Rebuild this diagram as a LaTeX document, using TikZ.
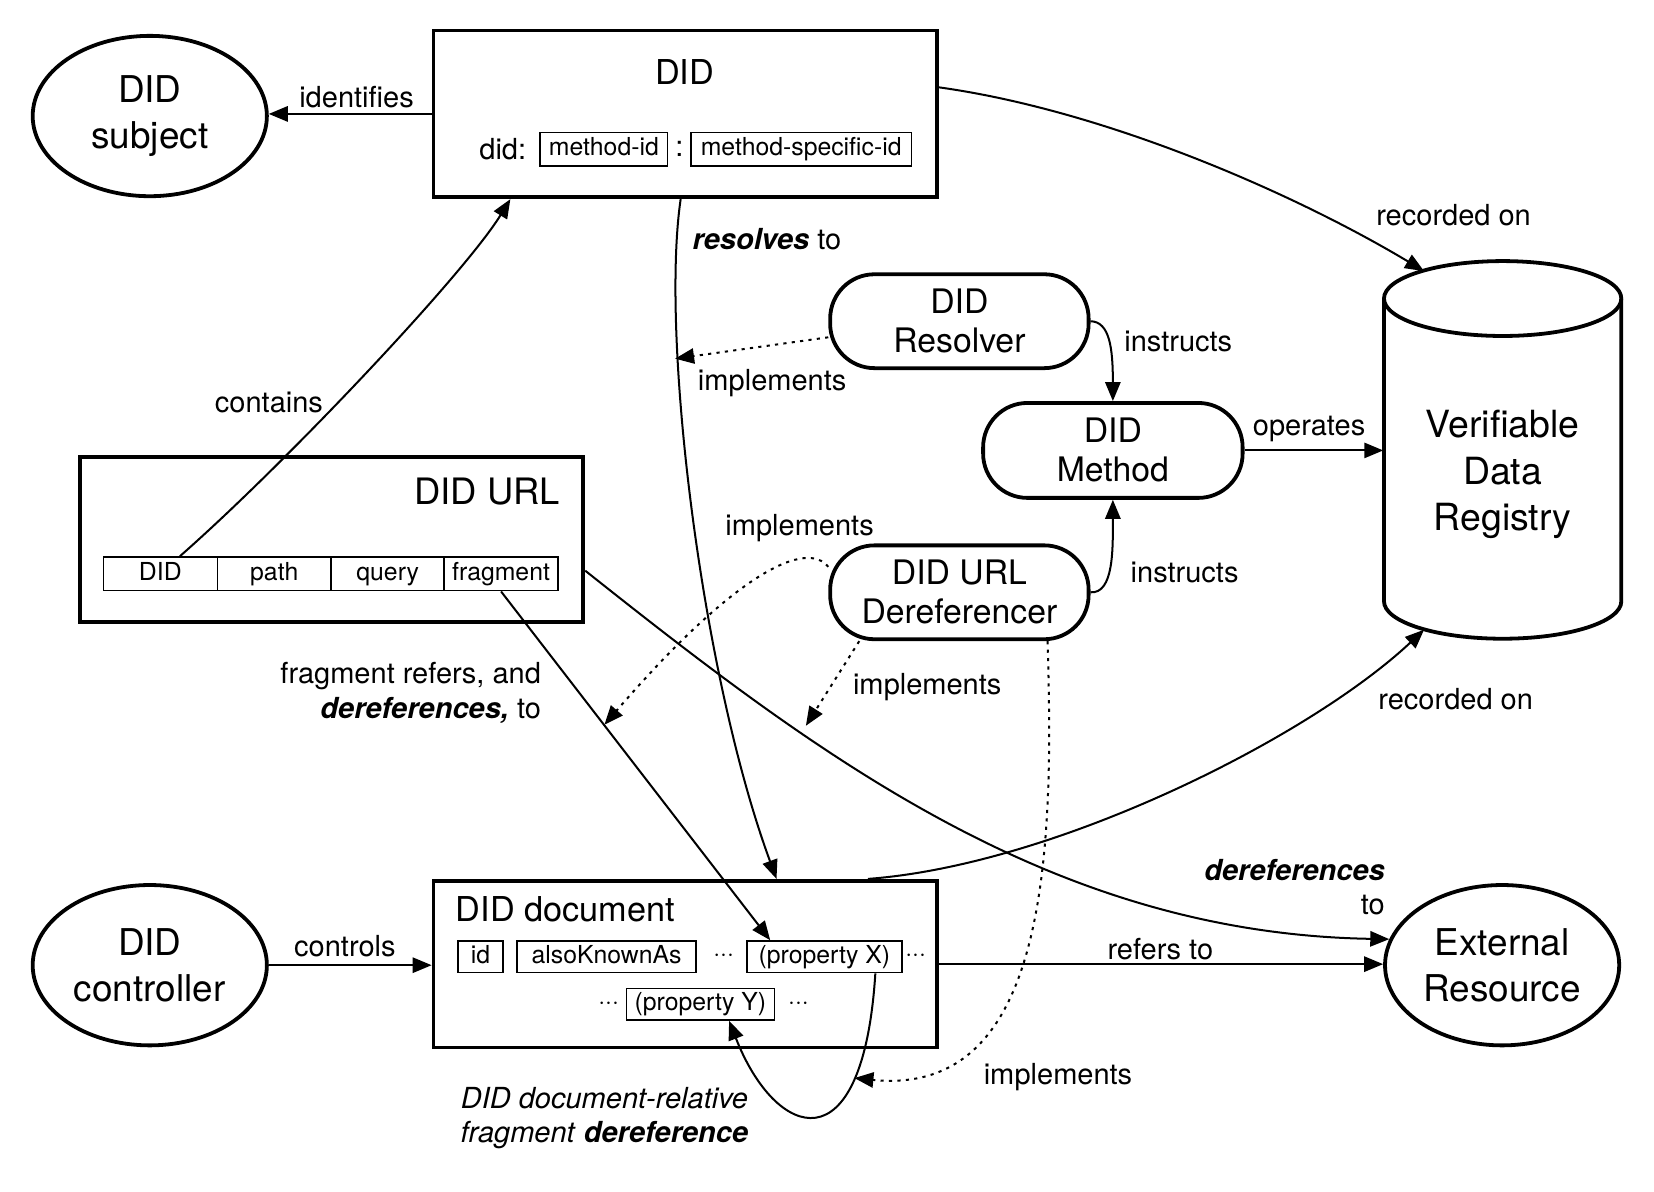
\documentclass[tikz,border=0pt]{standalone}
\usepackage{fontspec}
\setmainfont{TeX Gyre Heros}
\usetikzlibrary{arrows.meta,calc,shapes.geometric}

\begin{document}
\begin{tikzpicture}[x=1pt,y=-1pt,
		bigbox/.style={draw,line width=3.6pt,minimum width=477pt,minimum height=158pt,inner sep=0pt},
		entity/.style={draw,ellipse,line width=3.6pt,minimum width=222pt,minimum height=152pt,inner sep=0pt,align=center,font=\fontsize{35}{43}\selectfont},
		actor/.style={draw,rounded corners=42pt,line width=3.6pt,minimum width=245pt,minimum height=89pt,inner sep=0pt,align=center,font=\fontsize{32}{37}\selectfont},
		part/.style={draw,line width=1.4pt,minimum height=32pt,inner sep=0pt,text height=17pt,text depth=4.5pt,font=\fontsize{23.5}{28}\selectfont},
		title/.style={inner sep=0pt,font=\fontsize{32.5}{38}\selectfont},
		lbl/.style={inner sep=0pt,font=\fontsize{27.5}{33}\selectfont},
		conn/.style={line width=1.9pt,-{Triangle[length=18pt,width=14.5pt]}},
		impl/.style={conn,dash pattern=on 3pt off 5pt},
	]
		\useasboundingbox (0,0) rectangle (1568,1130);
		% entities
		\node (subj) at (142,110) [entity] {DID\\subject};
		\node (ctrl) at (142,915) [entity] {DID\\controller};
		\node (ext) at (1424,915) [entity] {External\\Resource};
		% DID
		\node (did) at (649.5,108) [bigbox] {};
		\node (didt) at (649,68) [title] {DID};
		\node (didp) at (499,141) [lbl,anchor=east] {did:};
		\node (mid) at (572.5,141.5) [part,minimum width=121pt] {method-id};
		\node (colon) at (644,141) [lbl] {:};
		\node (msid) at (759.5,141.5) [part,minimum width=209pt] {method-specific-id};
		% DID URL
		\node (url) at (314.5,511.5) [bigbox,minimum height=157pt] {};
		\node (urlt) at (531,466) [title,anchor=east,font=\fontsize{34.5}{40}\selectfont] {DID URL};
		\node (udid) at (152,544) [part,minimum width=108pt] {DID};
		\node (upath) at ($(udid) + (108,0)$) [part,minimum width=108pt] {path};
		\node (uquery) at ($(upath) + (107.5,0)$) [part,minimum width=108pt] {query};
		\node (ufrag) at ($(uquery) + (107.5,0)$) [part,minimum width=108pt] {fragment};
		% software
		\node (res) at (909.5,304.5) [actor] {DID\\Resolver};
		\node (meth) at (1055,427) [actor,minimum width=246pt,minimum height=90pt] {DID\\Method};
		\node (deref) at (909.5,561.5) [actor] {DID URL\\Dereferencer};
		% registry
		\node (vdr) at (1424.5,450) [minimum width=226pt,minimum height=320pt,inner sep=0pt,align=center,font=\fontsize{35.5}{44}\selectfont] {Verifiable\\Data\\Registry};
		\draw[line width=3.6pt] (1312,283) -- (1312,570) arc[start angle=180,end angle=0,x radius=112.5,y radius=35.5] -- (1537,283);
		\draw[line width=3.6pt] (1424.5,283) ellipse [x radius=112.5,y radius=35.5];
		\coordinate (vdrtop) at (1350,257);
		\coordinate (vdrbot) at (1350,597);
		% DID document
		\node (doc) at (649.5,914) [bigbox] {};
		\node (doct) at (432,862) [title,anchor=west] {DID document};
		\node (pid) at (455.5,907) [part,minimum width=43pt,minimum height=30pt] {id};
		\node (paka) at (575,907) [part,minimum width=170pt,minimum height=30pt] {alsoKnownAs};
		\node (dots1) at (686,905) [part,draw=none] {···};
		\node (px) at (781.5,907) [part,minimum width=147pt,minimum height=30pt] {(property X)};
		\node (dots2) at (868,905) [part,draw=none] {···};
		\node (dots3) at (577,951) [part,draw=none] {···};
		\node (py) at (664,952) [part,minimum width=140pt,minimum height=30pt] {(property Y)};
		\node (dots4) at (757,951) [part,draw=none] {···};
		% connectors
		\draw[conn] (did.west) -- (did.west -| subj.east);
		\node (lid) at (338,92) [lbl] {identifies};
		\draw[conn] (did.6) .. controls (1050,105) and (1230,185) .. (vdrtop);
		\node (lrec1) at (1378,204) [lbl] {recorded on};
		\draw[conn] (udid.42) .. controls (270,440) and (440,260) .. (did.206);
		\node (lcon) at (255,382) [lbl] {contains};
		\draw[conn] (did.267) .. controls (626,320) and (665,640) .. (doc.43);
		\node (lres) at (727,227) [lbl] {\textbf{\textit{resolves}} to};
		\coordinate (resimp) at (640,340);
		\draw[impl] (res.187) -- (resimp);
		\node (limp1) at (732,363) [lbl] {implements};
		\draw[conn] (res.east) .. controls (1052,305) and (1055,330) .. (meth.north);
		\node (lins1) at (1117,324) [lbl] {instructs};
		\draw[conn] (meth.east) -- (meth.east -| vdr.west);
		\node (lop) at (1241,407) [lbl] {operates};
		\draw[conn] (deref.east) .. controls (1056,563) and (1055,520) .. (meth.south);
		\node (lins2) at (1123,543) [lbl] {instructs};
		\coordinate (fragimp) at (573,687);
		\draw[impl] (deref.169) .. controls (765,512) and (700,540) .. (fragimp);
		\node (limp2) at (758,501) [lbl] {implements};
		\coordinate (urlimp) at (764,688);
		\draw[impl] (deref.206) -- (urlimp);
		\node (limp3) at (879,651) [lbl] {implements};
		\coordinate (loopimp) at (810,1022);
		\draw[impl] (deref.331) .. controls (1000,820) and (990,1040) .. (loopimp);
		\node (limp4) at (1003,1021) [lbl] {implements};
		\draw[conn] (ufrag.south) -- (px.163);
		\node (lfrag) at (513,657) [lbl,anchor=east,align=right] {fragment refers, and\\\textbf{\textit{dereferences,}} to};
		\draw[conn] (url.353) .. controls (780,720) and (1000,885) .. (ext.167);
		\node (lderef) at (1313,841) [lbl,anchor=east,align=right] {\textbf{\textit{dereferences}}\\to};
		\draw[conn] (doc.25) .. controls (1000,820) and (1240,700) .. (vdrbot);
		\node (lrec2) at (1380,663) [lbl] {recorded on};
		\draw[conn] (ctrl.east) -- (ctrl.east -| doc.west);
		\node (lctl) at (327,897) [lbl] {controls};
		\draw[conn] (doc.east) -- (doc.east -| ext.west);
		\node (lref) at (1100,900) [lbl] {refers to};
		\draw[conn] (px.342) .. controls (818,1110) and (735,1080) .. (py.330);
		\node (lloop) at (573,1060) [lbl,align=center] {\textit{DID document-relative}\\\textit{fragment} \textbf{\textit{dereference}}};
	\end{tikzpicture}
\end{document}
